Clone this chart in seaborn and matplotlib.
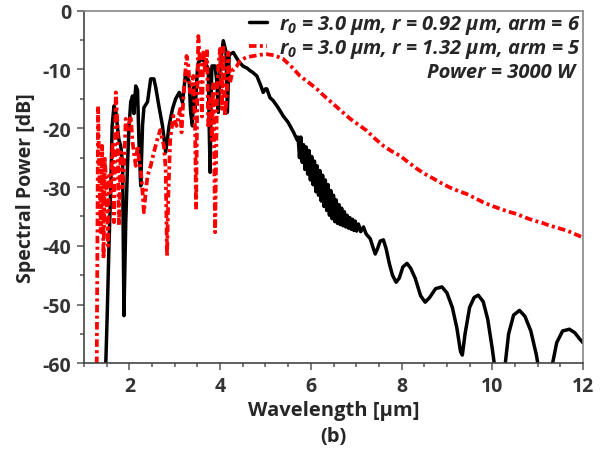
import numpy as np
import pandas as pd
import matplotlib
matplotlib.use("Agg")
import matplotlib.pyplot as plt
import seaborn as sns
from matplotlib.ticker import MultipleLocator

# ---- data ----
# black: r0 = 3.0 um, r = 0.92 um, arm = 6
wl_a = [1.47, 1.48, 1.51, 1.55, 1.59, 1.62, 1.66, 1.70, 1.74, 1.77, 1.81, 1.85,
        1.88, 1.92, 1.96, 1.99, 2.03, 2.07, 2.10, 2.14, 2.18, 2.21, 2.25, 2.29,
        2.32, 2.40, 2.47, 2.54, 2.58, 2.65, 2.73, 2.80, 2.875, 2.95, 3.02, 3.10,
        3.17, 3.21, 3.24, 3.32, 3.35, 3.39, 3.42, 3.45, 3.50, 3.52, 3.60, 3.67,
        3.74, 3.76, 3.78, 3.80, 3.82, 3.89, 3.93, 3.96, 4.00, 4.07, 4.13, 4.16,
        4.20, 4.29, 4.40, 4.50, 4.60, 4.66, 4.72, 4.81, 4.90, 4.95, 5.00, 5.03,
        5.10, 5.17, 5.28, 5.39, 5.50, 5.62, 5.70,
        5.72, 5.75, 5.78, 5.81, 5.84, 5.87, 5.90, 5.93, 5.96, 5.99, 6.02, 6.05,
        6.08, 6.11, 6.14, 6.17, 6.20, 6.23, 6.26, 6.29, 6.32, 6.35, 6.38, 6.41,
        6.44, 6.47, 6.50, 6.53, 6.56, 6.59, 6.62, 6.65, 6.68, 6.71, 6.74, 6.77,
        6.80, 6.83, 6.86, 6.89, 6.92, 6.95, 6.98, 7.01, 7.05, 7.10, 7.16, 7.22,
        7.31, 7.38, 7.42, 7.47, 7.53, 7.60, 7.66, 7.73, 7.80, 7.88, 7.95, 8.03,
        8.12, 8.20, 8.30, 8.42, 8.52, 8.62, 8.75, 8.89, 9.00, 9.12, 9.22, 9.30,
        9.34, 9.40, 9.50, 9.60, 9.69, 9.80, 9.90, 10.00, 10.07, 10.12, 10.22, 10.28,
        10.36, 10.47, 10.60, 10.72, 10.85, 10.97, 11.05, 11.10, 11.26, 11.33, 11.42, 11.55,
        11.70, 11.82, 11.92, 12.00]
pw_a = [-66, -60, -52, -40, -29.8, -19.6, -16.2, -17, -20, -22, -23, -26,
        -51.9, -36, -26, -20, -15.5, -14.5, -17.5, -12.8, -13.5, -22, -29.8, -19.5,
        -16.5, -15.5, -11.6, -11.6, -13, -16.2, -19.6, -24.1, -19.6, -16.7, -15.0, -13.9,
        -15.6, -12.8, -10.5, -12.2, -17.3, -19.6, -13, -16.7, -10, -8.8, -8.2, -8.8,
        -9.9, -20, -27.5, -15, -9.4, -9.4, -12.2, -17.3, -9.4, -5.1, -7.0, -17.3,
        -7.5, -7.1, -8.5, -9.4, -9.8, -10.2, -10.5, -11.1, -12.8, -13.9, -13.3, -13.3,
        -14.8, -15.3, -16.5, -17.9, -19.0, -20.7, -22.0,
        -21.5, -25.0, -21.5, -25.8, -22.8, -27.0, -23.2, -27.8, -23.8, -28.8, -24.8, -29.6,
        -25.6, -30.8, -26.4, -31.4, -27.2, -32.4, -28.0, -33.3, -28.8, -34.0, -29.6, -34.8,
        -30.6, -35.4, -31.4, -35.9, -32.2, -36.2, -33.0, -36.4, -33.6, -36.6, -34.2, -36.8,
        -34.8, -37.0, -35.2, -37.2, -35.5, -37.4, -35.8, -37.5, -36.3, -37.6, -36.8, -38.0,
        -38.8, -40.5, -41.4, -40.5, -39.2, -39.0, -40.5, -43.0, -45.0, -46.2, -45.5, -43.6,
        -43.0, -43.8, -45.5, -48.5, -49.6, -48.8, -47.3, -47.0, -48.0, -50.5, -54.0, -58.0,
        -58.6, -55.0, -50.5, -48.8, -48.4, -49.5, -52.5, -57.5, -61.5, -66, -66, -60.5,
        -55.0, -51.8, -51.0, -52.0, -54.5, -58.5, -62, -66, -66, -60, -56.5, -54.5,
        -54.2, -54.8, -55.8, -56.5]

# red: r0 = 3.0 um, r = 1.32 um, arm = 5
wl_b = [1.27, 1.28, 1.29, 1.31, 1.33, 1.35, 1.37, 1.40, 1.43, 1.46, 1.50, 1.53,
        1.55, 1.59, 1.63, 1.66, 1.70, 1.74, 1.77, 1.81, 1.85, 1.88, 1.92, 1.96,
        2.03, 2.07, 2.10, 2.14, 2.18, 2.21, 2.25, 2.29, 2.32, 2.36, 2.40, 2.47,
        2.54, 2.62, 2.68, 2.76, 2.80, 2.83, 2.86, 2.90, 2.97, 3.04, 3.12, 3.15,
        3.19, 3.26, 3.30, 3.34, 3.41, 3.45, 3.47, 3.50, 3.52, 3.56, 3.60, 3.63,
        3.67, 3.71, 3.74, 3.78, 3.82, 3.85, 3.89, 3.93, 3.96, 4.00, 4.04, 4.07,
        4.11, 4.15, 4.18, 4.22, 4.29, 4.37, 4.44, 4.51, 4.59, 4.74, 4.88, 5.03,
        5.20, 5.39, 5.57, 5.76, 5.95, 6.13, 6.32, 6.50, 6.69, 6.87, 7.05, 7.23,
        7.42, 7.60, 7.78, 7.97, 8.15, 8.34, 8.52, 8.71, 8.89, 9.07, 9.26, 9.44,
        9.62, 9.80, 9.99, 10.17, 10.36, 10.54, 10.73, 10.91, 11.10, 11.28, 11.46, 11.64,
        11.82, 12.00]
pw_b = [-66, -60, -46.8, -16.2, -25.2, -31, -37.7, -23.0, -42.2, -25.2, -32, -40,
        -28.1, -30.9, -22.4, -36, -13.9, -19.6, -36.6, -24.1, -30, -26.9, -18.4, -20.7,
        -17.9, -22.4, -24.1, -26.4, -23.0, -25.2, -26.9, -30.9, -34.3, -30.9, -28.1, -26.4,
        -24.1, -21.8, -20.3, -23.0, -26.9, -41.7, -31, -21.8, -17.9, -19.6, -16.7, -20.7,
        -15.0, -7.7, -9.4, -13.9, -11.1, -20.7, -33.8, -12.2, -4.3, -9.4, -18, -7.1,
        -10.5, -6.5, -20, -15.0, -22, -12.2, -37.7, -15.0, -9.4, -6.5, -16.7, -6.0,
        -18, -13.9, -7.1, -12.2, -9.9, -9.4, -8.5, -8.2, -7.9, -7.7, -7.5, -7.4,
        -7.6, -8.2, -9.5, -11.1, -12.2, -13.3, -14.7, -15.9, -17.2, -18.4, -19.4, -20.4,
        -21.8, -23.0, -23.9, -24.7, -25.8, -26.9, -27.8, -28.6, -29.4, -30.1, -30.7, -31.2,
        -31.9, -32.6, -33.2, -33.7, -34.2, -34.6, -35.2, -35.7, -36.1, -36.6, -37.0, -37.4,
        -38.0, -38.6]

labels = [r"$r_0$ = 3.0 μm, r = 0.92 μm, arm = 6",
          r"$r_0$ = 3.0 μm, r = 1.32 μm, arm = 5"]
note = "Power = 3000 W"

sns.set_theme(style="ticks")
plt.rcParams["font.family"] = ["Open Sans", "DejaVu Sans"]
plt.rcParams["axes.unicode_minus"] = False
plt.rcParams["mathtext.fontset"] = "custom"
plt.rcParams["mathtext.it"] = "Open Sans:italic:bold"
plt.rcParams["mathtext.rm"] = "Open Sans:italic:bold"

fig = plt.figure(figsize=(6.16, 4.56), dpi=100)
ax = fig.add_axes([0.1364, 0.2011, 0.81, 0.7732])

df_a = pd.DataFrame({"wl": wl_a, "pw": pw_a})
df_b = pd.DataFrame({"wl": wl_b, "pw": pw_b})
sns.lineplot(data=df_a, x="wl", y="pw", ax=ax, color="black", lw=2.5,
             sort=False, estimator=None, label=labels[0])
sns.lineplot(data=df_b, x="wl", y="pw", ax=ax, color="#ff0000", lw=2.7,
             sort=False, estimator=None, label=labels[1],
             linestyle=(0, (2.0, 0.9, 0.8, 0.9)))

ax.set_xlim(1, 12)
ax.set_ylim(-60, 0)
ax.xaxis.set_major_locator(MultipleLocator(2))
ax.xaxis.set_minor_locator(MultipleLocator(0.5))
ax.yaxis.set_major_locator(MultipleLocator(10))
ax.yaxis.set_minor_locator(MultipleLocator(5))
ax.tick_params(which="both", direction="out", color="#555", width=1.1)
ax.tick_params(which="major", length=5, labelsize=14, labelcolor="#333", pad=4)
ax.tick_params(which="minor", length=3)
for lab in ax.get_xticklabels() + ax.get_yticklabels():
    lab.set_fontweight("bold")
for s in ax.spines.values():
    s.set_color("#888")
    s.set_linewidth(1.2)
ax.spines["left"].set_color("#444")
ax.spines["bottom"].set_color("#444")

ax.set_xlabel("Wavelength [μm]", fontsize=14.5, fontweight="bold", labelpad=3)
ax.set_ylabel("Spectral Power [dB]", fontsize=14, fontweight="bold", labelpad=5)
fig.text(0.541, 0.042, "(b)", ha="center", va="center", fontsize=14.5,
         fontweight="bold")

leg = ax.legend(loc="upper right", frameon=False, handlelength=0.9,
                handletextpad=0.6, labelspacing=0.05, borderaxespad=0.1,
                borderpad=0.0, prop={"family": "Open Sans", "style": "italic",
                                     "weight": "bold", "size": 14.5})
ax.text(0.985, 0.826, note, transform=ax.transAxes, ha="right", va="center",
        fontsize=14.5, family="Open Sans", style="italic", fontweight="bold")

fig.savefig("out.png", dpi=100)
